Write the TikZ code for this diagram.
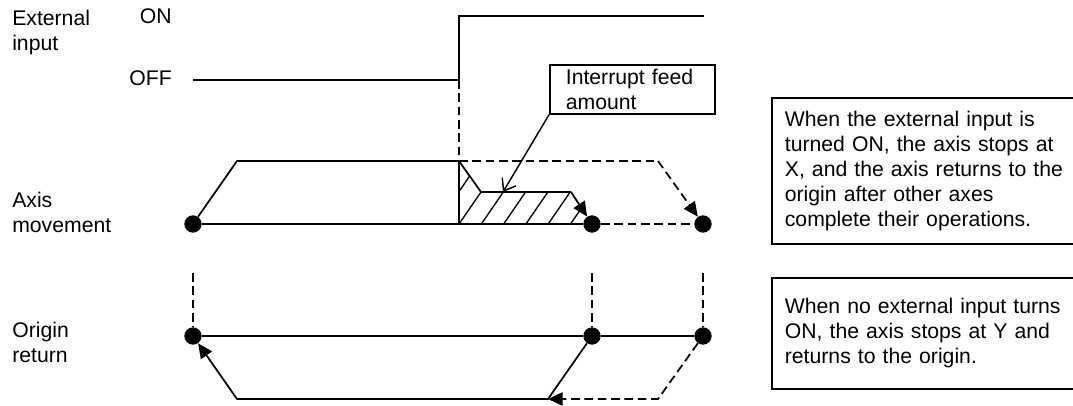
\documentclass[tikz,border=0pt]{standalone}
\usepackage{fontspec}
\setmainfont{Liberation Sans}
\usetikzlibrary{arrows.meta}
\begin{document}
\begin{tikzpicture}[x=0.75pt,y=-0.75pt,
  every node/.style={font=\fontsize{15.9}{18.75}\selectfont, inner sep=0pt},
  ln/.style={line width=1.3pt},
  dsh/.style={ln, dash pattern=on 6.5pt off 3.5pt},
  dot/.style={circle, fill=black, minimum size=13pt, inner sep=0pt},
  tri/.style={-{Triangle[length=11pt,width=10pt]}},
  lbl/.style={anchor=north west, align=left},
  note/.style={draw, line width=1.3pt, anchor=north west, align=left, text width=280pt, inner xsep=9.75pt, inner ysep=0pt},
]
\useasboundingbox (0,0) rectangle (1073,405);
\clip (0,0) rectangle (1073,405);

% left labels
\node[lbl] (lext) at (12,10) {External\\input};
\node[lbl] (laxis) at (12,192) {Axis\\movement};
\node[lbl] (lorig) at (12,322) {Origin\\return};
\node[anchor=base east] (lon) at (172,23) {ON};
\node[anchor=base east] (loff) at (172,85) {OFF};

% external input signal
\coordinate (e0) at (193,80);
\coordinate (e1) at (459,80);
\coordinate (e2) at (459,16);
\coordinate (e3) at (704,16);
\draw[ln] (e0) -- (e1) -- (e2) -- (e3);

% axis movement
\node[dot] (a1) at (193,224) {};
\node[dot] (a2) at (592,224) {};
\node[dot] (a3) at (703,224) {};
\coordinate (t1) at (237,161);
\coordinate (t2) at (459,161);
\coordinate (t3) at (658,161);
\coordinate (h1) at (481,192);
\coordinate (h2) at (571,192);
\coordinate (hb) at (459,224);

\begin{scope}
\clip (t2) -- (h1) -- (h2) -- (592,224) -- (hb) -- cycle;
\foreach \k in {-3,...,7}
  \draw[line width=1pt] ({459+22.3*\k-0.6875*40},264) -- ({459+22.3*\k+0.6875*100},124);
\end{scope}

\draw[ln] (a1) -- (a2);
\draw[ln] (a1) -- (t1) -- (t2);
\draw[ln] (t2) -- (hb);
\draw[ln] (t2) -- (h1) -- (h2);
\draw[ln, tri] (h2) -- (a2);
\draw[dsh] (e1) -- (t2);
\draw[dsh] (t2) -- (t3);
\draw[dsh, tri] (t3) -- (a3);
\draw[dsh] (a2) -- (a3);

% interrupt feed amount
\node[draw, line width=1.3pt, anchor=north west, align=left, text width=100pt, inner xsep=12pt, minimum height=36.75pt] (ifa) at (549,64) {Interrupt feed\\amount};
\coordinate (ia) at (503,192);
\draw[line width=1.1pt, -{Straight Barb[length=8pt,width=12pt]}] (ifa.south west) -- (ia);

% origin return
\node[dot] (o1) at (193,336) {};
\node[dot] (o2) at (592,336) {};
\node[dot] (o3) at (703,336) {};
\coordinate (v1) at (193,273);
\coordinate (v2) at (592,273);
\coordinate (v3) at (703,273);
\draw[dsh] (v1) -- (o1);
\draw[dsh] (v2) -- (o2);
\draw[dsh] (v3) -- (o3);
\draw[ln] (o1) -- (o2) -- (o3);
\coordinate (r1) at (237,399);
\coordinate (r2) at (548,399);
\coordinate (r3) at (658,399);
\draw[ln, tri] (o2) -- (r2) -- (r1) -- (o1);
\draw[dsh, tri] (o3) -- (r3) -- (r2);

% notes
\node[note, minimum height=109.5pt] (n1) at (771,97) {When the external input is\\turned ON, the axis stops at\\X, and the axis returns to the\\origin after other axes\\complete their operations.};
\node[note, minimum height=83.25pt] (n2) at (771,277) {When no external input turns\\ON, the axis stops at Y and\\returns to the origin.};
\end{tikzpicture}
\end{document}
